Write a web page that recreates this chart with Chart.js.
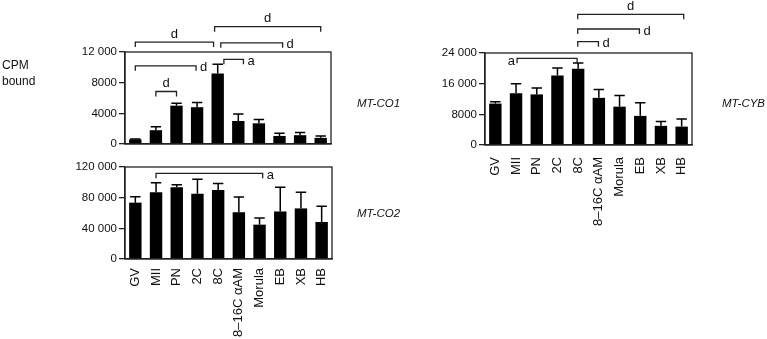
<!DOCTYPE html>
<html>
<head>
<meta charset="utf-8">
<script src="https://cdn.jsdelivr.net/npm/chart.js@4"></script>
<style>
  body { margin: 0; background: #fff; }
  #wrap { position: relative; width: 767px; height: 339px; font-family: "Liberation Sans", Arial, sans-serif; color: #111; }
  canvas { position: absolute; left: 0; top: 0; }
  .lbl { position: absolute; font-size: 12px; line-height: 16px; white-space: nowrap; }
  .gene { font-style: italic; font-size: 11.5px; }
</style>
</head>
<body>
<div id="wrap">
  <canvas id="co1" width="767" height="339"></canvas>
  <canvas id="co2" width="767" height="339"></canvas>
  <canvas id="cyb" width="767" height="339"></canvas>
  <div class="lbl" style="left:2px;top:57px">CPM<br>bound</div>
  <div class="lbl gene" style="left:357px;top:95px">MT-CO1</div>
  <div class="lbl gene" style="left:357px;top:205px">MT-CO2</div>
  <div class="lbl gene" style="left:722px;top:95px">MT-CYB</div>
</div>
<script>
const stages = ['GV', 'MII', 'PN', '2C', '8C', '8–16C αAM', 'Morula', 'EB', 'XB', 'HB'];

// MT-CO1
const co1Mean = [600, 1800, 5000, 4800, 9200, 3000, 2700, 1050, 1150, 800];
const co1Sd = [50, 450, 300, 600, 1200, 900, 500, 350, 350, 250];
// MT-CO2
const co2Mean = [73500, 87000, 93500, 85000, 90000, 61000, 44800, 62000, 66000, 48300];
const co2Sd = [7800, 12600, 3500, 19000, 8500, 19800, 8700, 31500, 21000, 20400];
// MT-CYB
const cybMean = [10800, 13500, 13200, 18100, 19900, 12300, 10000, 7600, 5000, 4800];
const cybSd = [500, 2500, 1700, 2000, 1500, 2200, 2900, 3400, 1100, 2000];

// significance brackets: category index from/to, height in data units, letter
const co1Brackets = [
  { from: 0, to: 3.8, y: 13300, text: 'd', at: 'top' },
  { from: 3.85, to: 9, y: 15300, text: 'd', at: 'top' },
  { from: 4.15, to: 7.15, y: 13200, text: 'd', at: 'right' },
  { from: 0, to: 2.95, y: 10200, text: 'd', at: 'right' },
  { from: 1, to: 2, y: 6850, text: 'd', at: 'top' },
  { from: 4.3, to: 5.25, y: 11050, text: 'a', at: 'right' }
];
const co2Brackets = [
  { from: 1, to: 6.15, y: 111800, text: 'a', at: 'right' }
];
const cybBrackets = [
  { from: 1.05, to: 3.95, y: 22600, text: 'a', at: 'left' },
  { from: 3.98, to: 4.98, y: 26950, text: 'd', at: 'right' },
  { from: 3.98, to: 6.96, y: 30260, text: 'd', at: 'right' },
  { from: 3.98, to: 9.1, y: 34100, text: 'd', at: 'top' }
];

const FONT = '"Liberation Sans", Arial, sans-serif';
const INK = '#222';

// error bars (upper half only, like the figure)
const errorBars = {
  id: 'errorBars',
  afterDatasetsDraw(chart, args, opts) {
    const ctx = chart.ctx;
    const y = chart.scales.y;
    const data = chart.data.datasets[0].data;
    ctx.save();
    ctx.strokeStyle = '#000';
    ctx.lineWidth = 1.5;
    chart.getDatasetMeta(0).data.forEach((bar, i) => {
      const top = y.getPixelForValue(data[i] + opts.sd[i]);
      const half = bar.width * 0.42;
      ctx.beginPath();
      ctx.moveTo(bar.x, bar.y);
      ctx.lineTo(bar.x, top);
      ctx.moveTo(bar.x - half, top);
      ctx.lineTo(bar.x + half, top);
      ctx.stroke();
    });
    ctx.restore();
  }
};

// box frame + brackets
const brackets = {
  id: 'brackets',
  afterDraw(chart, args, opts) {
    const ctx = chart.ctx;
    const a = chart.chartArea;
    const x = chart.scales.x, y = chart.scales.y;
    ctx.save();
    ctx.strokeStyle = INK;
    ctx.lineWidth = 1.3;
    ctx.strokeRect(a.left, a.top, a.right - a.left, a.bottom - a.top);

    ctx.font = '13px ' + FONT;
    ctx.fillStyle = '#111';
    opts.list.forEach(b => {
      const x1 = x.getPixelForValue(b.from);
      const x2 = x.getPixelForValue(b.to);
      const yy = y.getPixelForValue(b.y);
      ctx.beginPath();
      ctx.moveTo(x1, yy + 5);
      ctx.lineTo(x1, yy);
      ctx.lineTo(x2, yy);
      ctx.lineTo(x2, yy + 5);
      ctx.stroke();
      ctx.textBaseline = 'middle';
      if (b.at === 'top') {
        ctx.textAlign = 'center';
        ctx.fillText(b.text, (x1 + x2) / 2, yy - 8);
      } else if (b.at === 'right') {
        ctx.textAlign = 'left';
        ctx.fillText(b.text, x2 + 4, yy + 2);
      } else {
        ctx.textAlign = 'right';
        ctx.fillText(b.text, x1 - 2, yy + 3);
      }
    });
    ctx.restore();
  }
};

function fmt(v) {
  return v >= 10000 ? String(v).replace(/(\d)(?=(\d{3})+$)/g, '$1 ') : String(v);
}

function makePanel(id, means, sd, list, box, yMax, yStep, showLabels, labelPad) {
  const padLeft = box.left - 110;
  return new Chart(document.getElementById(id), {
    type: 'bar',
    data: {
      labels: stages,
      datasets: [{
        data: means,
        backgroundColor: '#000',
        barPercentage: 0.6,
        categoryPercentage: 1
      }]
    },
    options: {
      responsive: false,
      animation: false,
      events: [],
      layout: { padding: { left: padLeft, top: box.top, right: 767 - box.right, bottom: 0 } },
      plugins: {
        legend: { display: false },
        tooltip: { enabled: false },
        errorBars: { sd: sd },
        brackets: { list: list }
      },
      scales: {
        x: {
          grid: { display: false },
          border: { display: true, color: INK, width: 1.3 },
          ticks: {
            display: showLabels,
            autoSkip: false,
            maxRotation: 90,
            minRotation: 90,
            padding: labelPad,
            color: '#111',
            font: { family: FONT, size: 13 }
          },
          afterFit(s) { s.height = 339 - box.bottom; }
        },
        y: {
          min: 0,
          max: yMax,
          grid: { display: true, drawOnChartArea: false, drawTicks: true, tickLength: 6, color: INK, lineWidth: 1.3 },
          border: { display: true, color: INK, width: 1.3 },
          ticks: {
            stepSize: yStep,
            padding: 2,
            color: '#111',
            font: { family: FONT, size: 11.5 },
            callback: v => fmt(v)
          },
          afterFit(s) { s.width = 110; }
        }
      }
    },
    plugins: [errorBars, brackets]
  });
}

makePanel('co1', co1Mean, co1Sd, co1Brackets, { left: 125, right: 331, top: 52, bottom: 144 }, 12000, 4000, false, 0);
makePanel('co2', co2Mean, co2Sd, co2Brackets, { left: 125, right: 332, top: 167, bottom: 259 }, 120000, 40000, true, 1);
makePanel('cyb', cybMean, cybSd, cybBrackets, { left: 485, right: 692, top: 53, bottom: 145 }, 24000, 8000, true, 4);
</script>
</body>
</html>
